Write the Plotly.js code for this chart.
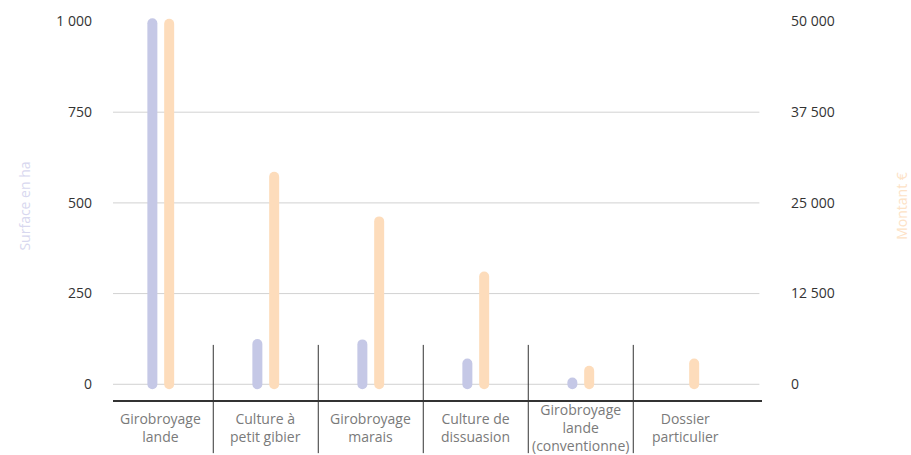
<!DOCTYPE html>
<html>
<head>
<meta charset="utf-8">
<script src="https://cdn.plot.ly/plotly-3.0.1.min.js"></script>
<style>
  html, body { margin: 0; padding: 0; background: #fff; }
  #chart { width: 911px; height: 455px; }
  .scatterlayer .js-line { stroke-linecap: round; }
</style>
</head>
<body>
<div id="chart"></div>
<script>
// ---- data ----
const categories = ['Girobroyage lande', 'Culture à petit gibier', 'Girobroyage marais', 'Culture de dissuasion', 'Girobroyage lande (conventionne)', 'Dossier particulier'];
const tickLabels = ['Girobroyage<br>lande', 'Culture à<br>petit gibier', 'Girobroyage<br>marais', 'Culture de<br>dissuasion', 'Girobroyage<br>lande<br>(conventionne)', 'Dossier<br>particulier'];
const surfaceHa = [995, 111, 110, 57, 5, null];
const montantEur = [49700, 28600, 22450, 14850, 1870, 2870];
const surfaceTicks = [0, 250, 500, 750, 1000];
const montantTicks = [0, 12500, 25000, 37500, 50000];
const gridValues = [0, 250, 500, 750];

// ---- build pill-shaped bars as round-capped line segments ----
function segments(values, offset) {
  const x = [], y = [];
  values.forEach((v, i) => {
    if (v === null) return;
    x.push(i + offset, i + offset, null);
    y.push(0, v, null);
  });
  return { x, y };
}
const s1 = segments(surfaceHa, -0.08);
const s2 = segments(montantEur, 0.08);

const traces = [
  { type: 'scatter', mode: 'lines', name: 'Surface en ha', x: s1.x, y: s1.y, yaxis: 'y',
    line: { color: '#c5c8e6', width: 10 }, connectgaps: false, hoverinfo: 'skip' },
  { type: 'scatter', mode: 'lines', name: 'Montant €', x: s2.x, y: s2.y, yaxis: 'y2',
    line: { color: '#fddcbb', width: 10 }, connectgaps: false, hoverinfo: 'skip' }
];

const yRange = [-43.3, 1026.2];
const ratio = 50;

const shapes = [];
gridValues.forEach(v => shapes.push({
  type: 'line', xref: 'paper', yref: 'y', x0: 0, x1: 0.996, y0: v, y1: v,
  line: { color: '#d2d2d2', width: 1 }, layer: 'below'
}));
for (let i = 0; i < categories.length - 1; i++) {
  shapes.push({
    type: 'line', xref: 'x', yref: 'paper', x0: i + 0.5, x1: i + 0.5, y0: 0.142, y1: -0.137,
    line: { color: '#333333', width: 1 }, layer: 'above'
  });
}

const font = 'Open Sans, Lato, sans-serif';

// category labels, vertically centred under the axis
const annotations = tickLabels.map((t, i) => ({
  x: i, xref: 'x', y: -0.072, yref: 'paper', yanchor: 'middle', xanchor: 'center',
  text: t, showarrow: false, align: 'center',
  font: { size: 14, color: '#7a7a7a', family: font }
}));

const layout = {
  width: 911, height: 455,
  margin: { l: 113, r: 149, t: 12, b: 55 },
  paper_bgcolor: '#ffffff', plot_bgcolor: '#ffffff',
  separators: ', ',
  showlegend: false,
  font: { family: font, color: '#333333' },
  xaxis: {
    range: [-0.455, 5.726],
    tickvals: categories.map((c, i) => i),
    ticktext: tickLabels,
    showticklabels: false,
    showgrid: false, zeroline: false,
    showline: true, linecolor: '#333333', linewidth: 2,
    ticks: '', fixedrange: true
  },
  yaxis: {
    range: yRange,
    tickvals: surfaceTicks,
    tickformat: ',d',
    tickfont: { size: 14, color: '#333333', family: font },
    showgrid: false, zeroline: false, showline: false, ticks: '',
    ticklabelstandoff: 20,
    title: { text: 'Surface en ha', font: { size: 14, color: '#d8d8ef', family: font }, standoff: 22 },
    fixedrange: true
  },
  yaxis2: {
    overlaying: 'y', side: 'right',
    range: yRange.map(v => v * ratio),
    tickvals: montantTicks,
    tickformat: ',d',
    tickfont: { size: 14, color: '#333333', family: font },
    showgrid: false, zeroline: false, showline: false, ticks: '',
    ticklabelstandoff: 28,
    title: { text: 'Montant €', font: { size: 14, color: '#fde2c6', family: font }, standoff: 64 },
    fixedrange: true
  },
  shapes: shapes,
  annotations: annotations,
  hovermode: false
};

Plotly.newPlot('chart', traces, layout, { displayModeBar: false, staticPlot: true });
</script>
</body>
</html>
